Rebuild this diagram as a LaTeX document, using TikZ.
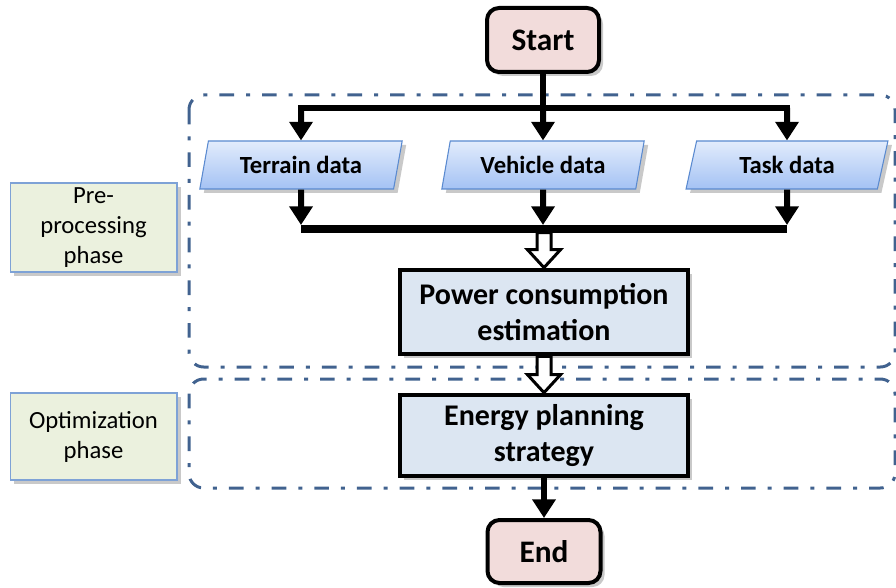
\documentclass[tikz,border=0pt]{standalone}
\usepackage{fontspec}
\setmainfont{Carlito}
\usetikzlibrary{arrows.meta,shapes.geometric,shadows,calc}
\definecolor{pinkfill}{HTML}{F2DCDB}
\definecolor{procfill}{HTML}{DCE6F2}
\definecolor{labelfill}{HTML}{EBF1DE}
\definecolor{labelborder}{HTML}{7EA2D6}
\definecolor{paraborder}{HTML}{5A8AD0}
\definecolor{paratop}{HTML}{E2ECFC}
\definecolor{parabot}{HTML}{A4C2F4}
\definecolor{frameblue}{HTML}{41628F}
\newcommand\hollowarrow[2]{%
  \draw[hollow] ($(#1)+(-7,0)$) -- ($(#2)+(-7,-18)$) -- ($(#2)+(-16.5,-18)$) -- (#2)
    -- ($(#2)+(16.5,-18)$) -- ($(#2)+(7,-18)$) -- ($(#1)+(7,0)$) -- cycle;}
\begin{document}
\begin{tikzpicture}[x=0.75pt,y=-0.75pt,
  shadowed/.style={drop shadow={shadow xshift=3pt,shadow yshift=-3pt,opacity=0.3,fill=black!70}},
  termbox/.style={draw=black,line width=3pt,fill=pinkfill,rounded corners=9pt,
    minimum width=84pt,minimum height=48pt,font=\fontsize{23.5}{27}\selectfont\bfseries,shadowed},
  procbox/.style={draw=black,line width=3.5pt,fill=procfill,minimum width=216pt,
    align=center,font=\fontsize{22.5}{26.5}\selectfont\bfseries,shadowed},
  databox/.style={trapezium,trapezium left angle=77,trapezium right angle=103,
    trapezium stretches=true,minimum width=152pt,minimum height=36pt,
    draw=paraborder,line width=0.8pt,top color=paratop,bottom color=parabot,
    font=\fontsize{18.5}{22}\selectfont\bfseries,shadowed},
  phasebox/.style={draw=labelborder,line width=1pt,fill=labelfill,minimum width=125pt,
    inner sep=1pt,align=center,font=\fontsize{18.5}{22.5}\selectfont,shadowed},
  phaseframe/.style={draw=frameblue,line width=2.25pt,
    dash pattern=on 11pt off 9pt on 3pt off 9pt,rounded corners=11pt},
  busline/.style={line width=4.5pt,line cap=rect},
  busthick/.style={line width=6pt},
  arr/.style={line width=4.5pt,-{Triangle[width=17pt,length=14pt]}},
  plain/.style={line width=4.5pt},
  hollow/.style={draw=black,fill=white,line width=2.25pt,line join=miter}]
\useasboundingbox (0,0) rectangle (896,588);

% phase frames
\draw[phaseframe] (189,95) rectangle (895,367);
\draw[phaseframe] (189,379) rectangle (895,488);

% phase labels
\node[phasebox,minimum height=66.75pt] (pre) at (93.5,227.5) {Pre-\\processing\\phase};
\node[phasebox,minimum height=65.25pt] (opt) at (93.5,436.5) {Optimization\\phase};

% nodes
\node[termbox] (start) at (543,40) {Start};
\node[databox] (terrain) at (301,165) {Terrain data};
\node[databox] (vehicle) at (543,165) {Vehicle data};
\node[databox] (task) at (787,165) {Task data};
\node[procbox,minimum height=63pt] (power) at (544,312) {Power consumption\\estimation};
\node[procbox,minimum height=60.75pt] (energy) at (544,435.5) {Energy planning\\strategy};
\node[termbox,minimum width=84.75pt,minimum height=47.25pt] (end) at (544,551.5) {End};

% upper bus
\coordinate (b1l) at (301,108);
\coordinate (b1m) at (543,108);
\coordinate (b1r) at (787,108);
\draw[plain] (start.south) -- (b1m);
\draw[busline] (b1l) -- (b1r);
\draw[arr] (b1l) -- (terrain.north);
\draw[arr] (b1m) -- (vehicle.north);
\draw[arr] (b1r) -- (task.north);

% lower bus
\coordinate (b2l) at (301,229);
\coordinate (b2m) at (544,229);
\coordinate (b2r) at (787,229);
\draw[busthick] (b2l) -- (b2r);
\draw[arr] (terrain.south) -- (301,225);
\draw[arr] (vehicle.south) -- (543,225);
\draw[arr] (task.south) -- (787,225);

% hollow arrows
\coordinate (h1) at (544,232.5);
\hollowarrow{h1}{power.north}
\hollowarrow{power.south}{energy.north}

% final arrow
\draw[arr] (energy.south) -- (end.north);
\end{tikzpicture}
\end{document}
